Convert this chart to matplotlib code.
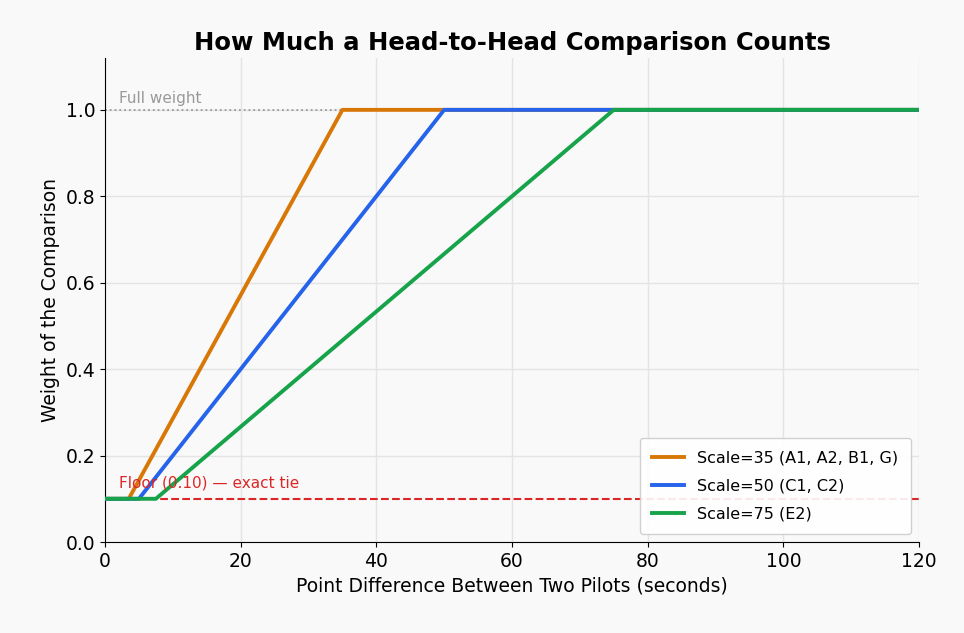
import matplotlib
matplotlib.use("Agg")
import matplotlib.pyplot as plt

labels = ["Scale=35 (A1, A2, B1, G)", "Scale=50 (C1, C2)", "Scale=75 (E2)"]
colors = ["#d97706", "#2563eb", "#16a34a"]
xs = [[0, 3.5, 35, 120], [0, 5, 50, 120], [0, 7.5, 75, 120]]
ys = [[0.1, 0.1, 1.0, 1.0], [0.1, 0.1, 1.0, 1.0], [0.1, 0.1, 1.0, 1.0]]

fig = plt.figure(figsize=(9.64, 6.33), dpi=100, facecolor="#f9f9f9")
ax = fig.add_axes([105/964, 1-542/633, (919-105)/964, (542-58)/633])
ax.set_facecolor("#f9f9f9")
for x, y, c, l in zip(xs, ys, colors, labels):
    ax.plot(x, y, color=c, lw=2.8, label=l, zorder=3)
ax.axhline(1.0, color="#999999", ls=":", lw=1.3, zorder=2)
ax.axhline(0.1, color="#dc2626", ls="--", lw=1.5, zorder=2)
ax.text(2, 1.015, "Full weight", color="#999999", fontsize=11)
ax.text(2, 0.125, "Floor (0.10) — exact tie", color="#dc2626", fontsize=11)
ax.set_xlim(0, 120)
ax.set_ylim(0, 1.12)
ax.set_xticks(range(0, 121, 20))
ax.set_yticks([0, 0.2, 0.4, 0.6, 0.8, 1.0])
ax.tick_params(labelsize=13.5)
ax.grid(True, color="#e4e4e4", lw=1)
ax.set_axisbelow(True)
for s in ["top", "right"]:
    ax.spines[s].set_visible(False)
ax.set_xlabel("Point Difference Between Two Pilots (seconds)", fontsize=13.5)
ax.set_ylabel("Weight of the Comparison", fontsize=13.5)
ax.set_title("How Much a Head-to-Head Comparison Counts", fontsize=17.5, fontweight="bold")
ax.legend(loc="lower right", fontsize=11.5, framealpha=0.9, facecolor="white",
          borderpad=0.8, labelspacing=0.8)
fig.savefig("out.png", dpi=100, facecolor=fig.get_facecolor())
